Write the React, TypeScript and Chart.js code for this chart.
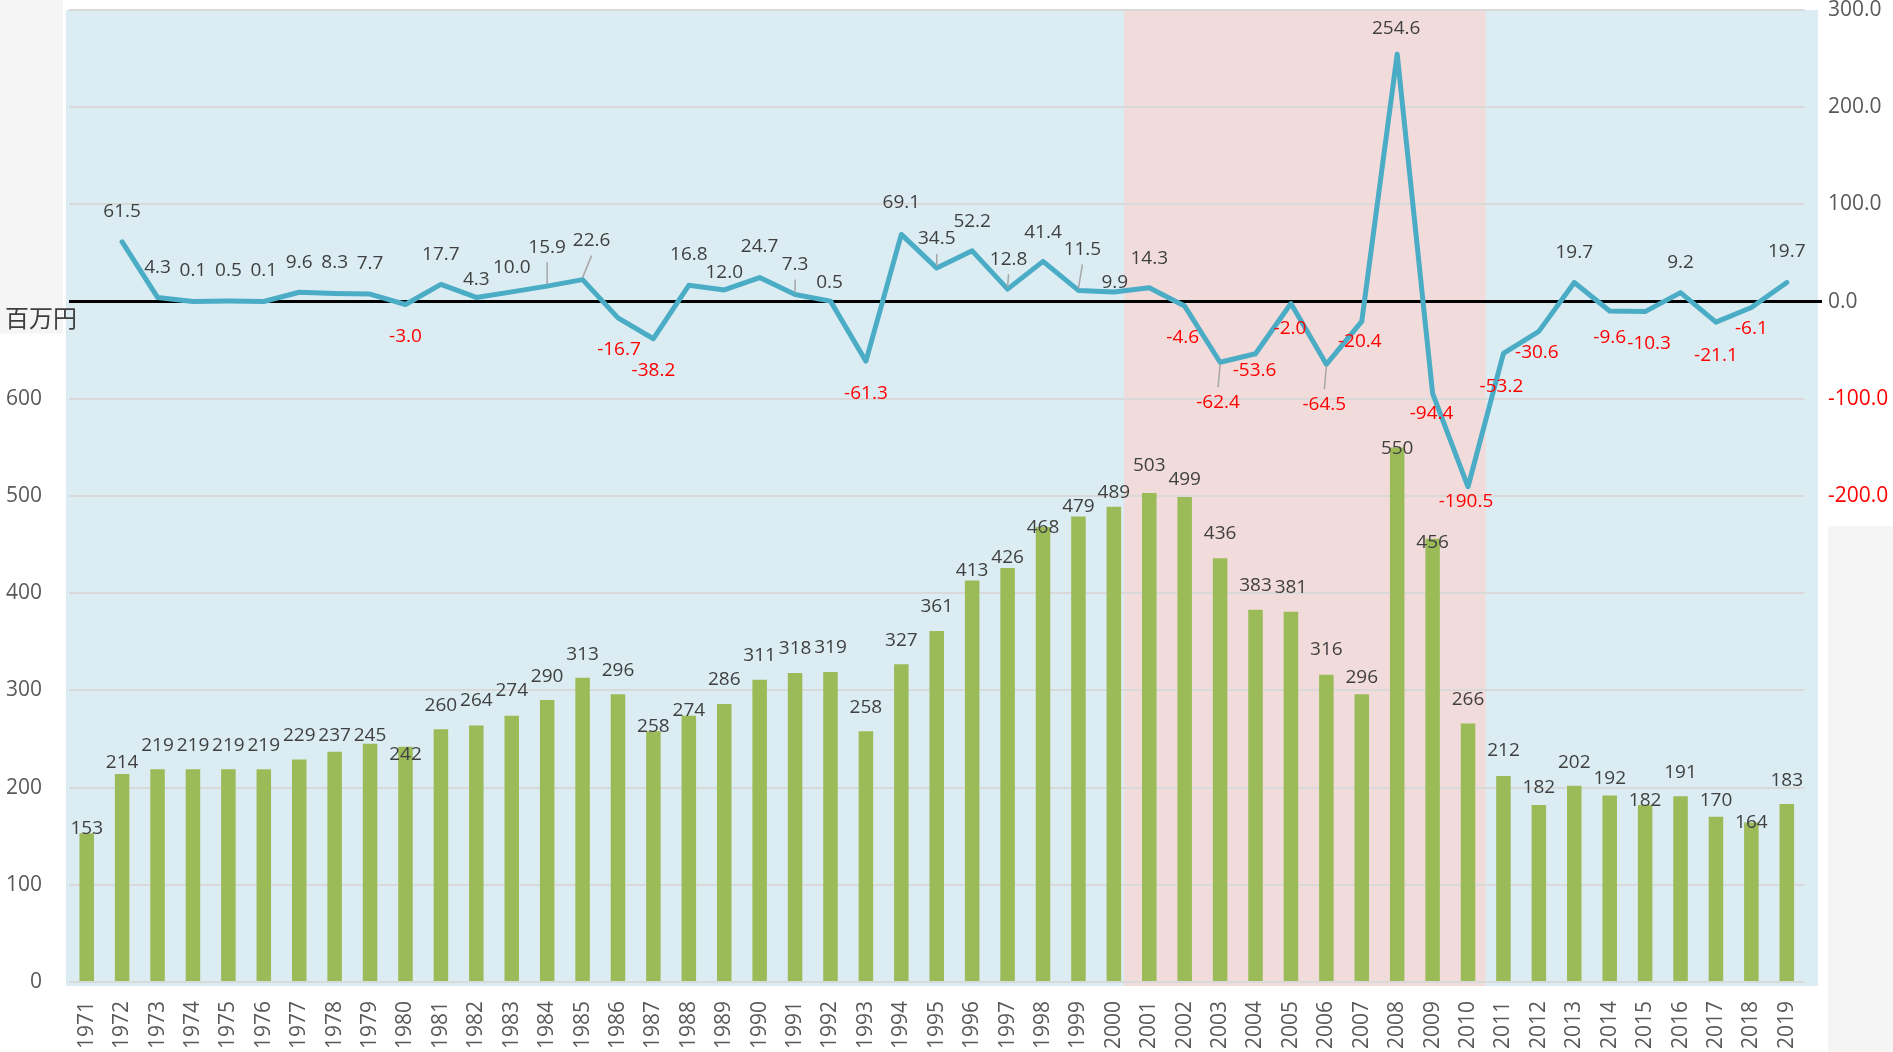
import React, { useEffect, useRef } from 'react';
import { Chart, registerables } from 'chart.js';

Chart.register(...registerables);

// ---------- data ----------
const years = [
  '1971', '1972', '1973', '1974', '1975', '1976', '1977', '1978', '1979', '1980',
  '1981', '1982', '1983', '1984', '1985', '1986', '1987', '1988', '1989', '1990',
  '1991', '1992', '1993', '1994', '1995', '1996', '1997', '1998', '1999', '2000',
  '2001', '2002', '2003', '2004', '2005', '2006', '2007', '2008', '2009', '2010',
  '2011', '2012', '2013', '2014', '2015', '2016', '2017', '2018', '2019',
];

const totals = [
  153, 214, 219, 219, 219, 219, 229, 237, 245, 242,
  260, 264, 274, 290, 313, 296, 258, 274, 286, 311,
  318, 319, 258, 327, 361, 413, 426, 468, 479, 489,
  503, 499, 436, 383, 381, 316, 296, 550, 456, 266,
  212, 182, 202, 192, 182, 191, 170, 164, 183,
];

const changes: (number | null)[] = [
  null, 61.5, 4.3, 0.1, 0.5, 0.1, 9.6, 8.3, 7.7, -3.0,
  17.7, 4.3, 10.0, 15.9, 22.6, -16.7, -38.2, 16.8, 12.0, 24.7,
  7.3, 0.5, -61.3, 69.1, 34.5, 52.2, 12.8, 41.4, 11.5, 9.9,
  14.3, -4.6, -62.4, -53.6, -2.0, -64.5, -20.4, 254.6, -94.4, -190.5,
  -53.2, -30.6, 19.7, -9.6, -10.3, 9.2, -21.1, -6.1, 19.7,
];

const leftAxisMax = 1000;
const leftLabelMax = 600;
const rightAxisMin = -700;
const rightAxisMax = 300;
const rightLabelMin = -200;
const shadeFrom = '2000';
const shadeTo = '2010';
const unitLabel = '百万円';
const leaderYears = ['1984', '1985', '1991', '1995', '1997', '1999', '2003', '2006'];

// ---------- label placement (px offsets, layout only) ----------
const barLabelDy = [
  -5, -11, -24, -24, -24, -24, -24, -16, -8, 8,
  -24, -25, -25, -24, -23, -24, -5, -5, -24, -24,
  -24, -24, -24, -24, -25, -10, -10, 0, -10, -14,
  -27, -17, -25, -24, -24, -25, -17, 1, 4, -24,
  -25, -18, -23, -17, -5, -24, -16, 0, -24,
];
const lineLabelDx = [
  0, 0, 0, 0, 0, 0, 0, 0, 0, 0,
  0, 0, 0, 0, 9, 1, 0, 0, 0, 0,
  0, -1, 0, 0, 0, 0, 1, 0, 4, 1,
  0, -2, -2, -1, -1, -2, -2, -1, -1, -2,
  -2, -2, 0, 0, 4, 0, 0, 0, 0,
];
const lineLabelDy = [
  0, -30, -30, -31, -31, -31, -30, -31, -31, 32,
  -30, -18, -24, -39, -39, 32, 32, -31, -17, -31,
  -30, -19, 32, -32, -29, -29, -30, -29, -41, -9,
  -29, 32, 40, 17, 25, 40, 20, -26, 20, 15,
  33, 21, -30, 27, 32, -30, 33, 21, -31,
];

const SANS = '"Open Sans", "DejaVu Sans", sans-serif';
const LABEL_FONT = '19px ' + SANS;

const decorPlugin = {
  id: 'decor',
  beforeDraw(chart: any) {
    const { ctx, chartArea: a, scales } = chart;
    const xs = scales.x;
    const yR = scales.yR;
    const w = (a.right - a.left) / years.length;
    ctx.save();
    ctx.fillStyle = '#ffffff';
    ctx.fillRect(0, 0, chart.width, chart.height);
    // grey side panels
    ctx.fillStyle = '#f5f5f5';
    ctx.fillRect(0, 0, a.left - 6, yR.getPixelForValue(0) + 32);
    const gy = yR.getPixelForValue(rightLabelMin) + 30;
    ctx.fillRect(a.right + 23.5, gy, chart.width - (a.right + 23.5), chart.height - gy);
    // plot background
    ctx.fillStyle = '#dbedf3';
    ctx.fillRect(a.left - 3, a.top, a.right + 13.5 - (a.left - 3), a.bottom + 4 - a.top);
    // shaded period
    const i0 = years.indexOf(shadeFrom);
    const i1 = years.indexOf(shadeTo);
    const sx0 = xs.getPixelForValue(i0) + 0.29 * w;
    const sx1 = xs.getPixelForValue(i1) + 0.5 * w;
    ctx.fillStyle = '#f2dcdb';
    ctx.fillRect(sx0, a.top, sx1 - sx0, a.bottom + 4 - a.top);
    ctx.restore();
  },
  beforeDatasetsDraw(chart: any) {
    const { ctx, chartArea: a, scales } = chart;
    const y0 = scales.yR.getPixelForValue(0);
    ctx.save();
    ctx.strokeStyle = '#000000';
    ctx.lineWidth = 3;
    ctx.beginPath();
    ctx.moveTo(a.left, y0);
    ctx.lineTo(a.right + 17.5, y0);
    ctx.stroke();
    ctx.restore();
  },
  afterDatasetsDraw(chart: any) {
    const { ctx } = chart;
    ctx.save();
    ctx.font = LABEL_FONT;
    ctx.textAlign = 'center';
    ctx.textBaseline = 'middle';
    // bar labels
    const barMeta = chart.getDatasetMeta(0);
    barMeta.data.forEach((el: any, i: number) => {
      ctx.fillStyle = '#404040';
      ctx.fillText(String(totals[i]), el.x, el.y + barLabelDy[i]);
    });
    // line labels
    const lineMeta = chart.getDatasetMeta(1);
    lineMeta.data.forEach((el: any, i: number) => {
      const v = changes[i];
      if (v === null || v === undefined) return;
      const lx = el.x + lineLabelDx[i];
      const ly = el.y + lineLabelDy[i];
      if (leaderYears.includes(years[i])) {
        const dir = lineLabelDy[i] < 0 ? 1 : -1;
        ctx.strokeStyle = '#a6a6a6';
        ctx.lineWidth = 1.5;
        ctx.beginPath();
        ctx.moveTo(el.x, el.y - dir * 2);
        ctx.lineTo(lx, ly + dir * 15);
        ctx.stroke();
      }
      ctx.fillStyle = v < 0 ? '#ff0000' : '#404040';
      ctx.fillText(v.toFixed(1), lx, ly);
    });
    ctx.restore();
  },
  afterDraw(chart: any) {
    const { ctx, scales } = chart;
    const y0 = scales.yR.getPixelForValue(0);
    ctx.save();
    ctx.font = '24px "Noto Sans CJK JP", sans-serif';
    ctx.fillStyle = '#404040';
    ctx.textAlign = 'left';
    ctx.textBaseline = 'middle';
    ctx.fillText(unitLabel, 5, y0 + 16);
    ctx.restore();
  },
};

export default function App() {
  const canvasRef = useRef<HTMLCanvasElement | null>(null);

  useEffect(() => {
    const canvas = canvasRef.current;
    if (!canvas) return;
    const chart = new Chart(canvas, {
      type: 'bar',
      data: {
        labels: years,
        datasets: [
          {
            type: 'bar',
            label: 'total',
            data: totals,
            yAxisID: 'yL',
            backgroundColor: '#9bbb59',
            borderWidth: 0,
            barPercentage: 0.41,
            categoryPercentage: 1,
            order: 2,
          },
          {
            type: 'line',
            label: 'change',
            data: changes,
            yAxisID: 'yR',
            borderColor: '#4bacc6',
            borderWidth: 5,
            pointRadius: 0,
            tension: 0,
            borderCapStyle: 'round',
            borderJoinStyle: 'round',
            spanGaps: false,
            order: 1,
          } as any,
        ],
      },
      options: {
        responsive: false,
        animation: false,
        devicePixelRatio: 1,
        layout: { padding: { top: 10, left: 0, right: 0, bottom: 0 } },
        plugins: {
          legend: { display: false },
          tooltip: { enabled: false },
          title: { display: false },
        },
        scales: {
          x: {
            type: 'category',
            offset: true,
            grid: { display: false },
            border: { display: false },
            ticks: {
              minRotation: 90,
              maxRotation: 90,
              autoSkip: false,
              padding: 11,
              color: '#595959',
              font: { family: SANS, size: 21 },
            },
            afterFit: (s: any) => { s.height = 70; },
          },
          yL: {
            type: 'linear',
            position: 'left',
            min: 0,
            max: leftAxisMax,
            grid: {
              color: '#d9d9d9',
              lineWidth: 2,
              drawTicks: true,
              tickLength: 27,
              tickColor: 'rgba(0,0,0,0)',
            },
            border: { display: false },
            ticks: {
              stepSize: 100,
              padding: 0,
              color: '#595959',
              font: { family: SANS, size: 21, lineHeight: 0.9 },
              callback: (v: any) => (Number(v) <= leftLabelMax ? String(v) : ''),
            },
            afterFit: (s: any) => { s.width = 69; },
          },
          yR: {
            type: 'linear',
            position: 'right',
            min: rightAxisMin,
            max: rightAxisMax,
            grid: {
              display: true,
              drawOnChartArea: false,
              color: 'rgba(0,0,0,0)',
              drawTicks: true,
              tickLength: 23.5,
              tickColor: 'rgba(0,0,0,0)',
            },
            border: { display: false },
            ticks: {
              stepSize: 100,
              padding: 0,
              color: (c: any) => (c.tick && c.tick.value < 0 ? '#ff0000' : '#595959'),
              font: { family: SANS, size: 21, lineHeight: 0.9 },
              callback: (v: any) => (Number(v) >= rightLabelMin ? Number(v).toFixed(1) : ''),
            },
            afterFit: (s: any) => { s.width = 88.5; },
          },
        },
      } as any,
      plugins: [decorPlugin],
    });
    return () => chart.destroy();
  }, []);

  return (
    <div style={{ position: 'fixed', left: 0, top: 0, width: 1893, height: 1052, background: '#ffffff' }}>
      <canvas ref={canvasRef} width={1893} height={1052} style={{ display: 'block', width: 1893, height: 1052 }} />
    </div>
  );
}
